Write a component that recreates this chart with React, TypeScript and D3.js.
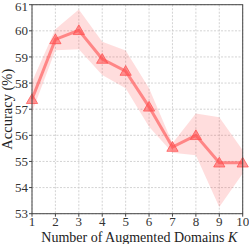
import * as d3 from "d3";
import React, { useRef, useEffect } from "react";

const kValues = [1, 2, 3, 4, 5, 6, 7, 8, 9, 10];
const accMean = [57.38, 59.67, 60.02, 58.92, 58.46, 57.09, 55.55, 56.0, 54.95, 54.95];
const accUpper = [58.05, 60.06, 60.82, 59.58, 59.25, 57.8, 55.7, 56.84, 56.69, 55.43];
const accLower = [56.88, 59.26, 59.29, 58.31, 57.8, 56.33, 55.33, 55.24, 53.26, 54.54];
const yTicks = [53, 54, 55, 56, 57, 58, 59, 60, 61];

const W = 249;
const H = 244;
const margin = { top: 4.7, right: 6.3, bottom: 30.3, left: 32 };

const App = () => {
  const svgRef = useRef(null);

  useEffect(() => {
    const svg = d3.select(svgRef.current);
    svg.selectAll("*").remove();

    const x = d3
      .scaleLinear()
      .domain([1, 10])
      .range([margin.left, W - margin.right]);
    const y = d3
      .scaleLinear()
      .domain([53, 61])
      .range([H - margin.bottom, margin.top]);

    const font = "'Liberation Serif', 'DejaVu Serif', serif";
    const color = "#ff4d4d";

    // grid
    const grid = svg.append("g");
    grid
      .selectAll(".gx")
      .data(kValues)
      .enter()
      .append("line")
      .attr("x1", (d) => x(d))
      .attr("x2", (d) => x(d))
      .attr("y1", margin.top)
      .attr("y2", H - margin.bottom)
      .attr("stroke", "#c8c8c8")
      .attr("stroke-width", 0.8)
      .attr("stroke-dasharray", "2,1.5");
    grid
      .selectAll(".gy")
      .data(yTicks)
      .enter()
      .append("line")
      .attr("x1", margin.left)
      .attr("x2", W - margin.right)
      .attr("y1", (d) => y(d))
      .attr("y2", (d) => y(d))
      .attr("stroke", "#c8c8c8")
      .attr("stroke-width", 0.8)
      .attr("stroke-dasharray", "2,1.5");

    // band
    const area = d3
      .area<number>()
      .x((d) => x(d))
      .y0((d, i) => y(accLower[i]))
      .y1((d, i) => y(accUpper[i]));
    svg
      .append("path")
      .datum(kValues)
      .attr("d", area)
      .attr("fill", "#ff3333")
      .attr("fill-opacity", 0.17);

    // line
    const line = d3
      .line<number>()
      .x((d) => x(d))
      .y((d, i) => y(accMean[i]));
    svg
      .append("path")
      .datum(kValues)
      .attr("d", line)
      .attr("fill", "none")
      .attr("stroke", color)
      .attr("stroke-opacity", 0.6)
      .attr("stroke-width", 3);

    // markers
    const tri = d3.symbol().type(d3.symbolTriangle).size(55);
    svg
      .selectAll(".mk")
      .data(kValues)
      .enter()
      .append("path")
      .attr("d", tri)
      .attr("transform", (d, i) => `translate(${x(d)},${y(accMean[i]) + 1})`)
      .attr("fill", color)
      .attr("fill-opacity", 0.55)
      .attr("stroke", color)
      .attr("stroke-opacity", 0.7)
      .attr("stroke-width", 1);

    // frame
    svg
      .append("rect")
      .attr("x", margin.left)
      .attr("y", margin.top)
      .attr("width", W - margin.left - margin.right)
      .attr("height", H - margin.top - margin.bottom)
      .attr("fill", "none")
      .attr("stroke", "#444")
      .attr("stroke-width", 1);

    // ticks
    const yAxis = svg.append("g");
    yTicks.forEach((t) => {
      yAxis
        .append("line")
        .attr("x1", margin.left - 3)
        .attr("x2", margin.left)
        .attr("y1", y(t))
        .attr("y2", y(t))
        .attr("stroke", "#444");
      yAxis
        .append("text")
        .attr("x", margin.left - 4)
        .attr("y", Math.max(y(t), 6.5))
        .attr("dy", "0.35em")
        .attr("text-anchor", "end")
        .attr("font-family", font)
        .attr("font-size", 13)
        .attr("fill", "#333")
        .text(t);
    });
    const xAxis = svg.append("g");
    kValues.forEach((t) => {
      xAxis
        .append("line")
        .attr("x1", x(t))
        .attr("x2", x(t))
        .attr("y1", H - margin.bottom)
        .attr("y2", H - margin.bottom + 3)
        .attr("stroke", "#444");
      xAxis
        .append("text")
        .attr("x", x(t))
        .attr("y", H - margin.bottom + 12.5)
        .attr("text-anchor", "middle")
        .attr("font-family", font)
        .attr("font-size", 13)
        .attr("fill", "#333")
        .text(t);
    });

    // labels
    const xl = svg
      .append("text")
      .attr("x", (margin.left + W - margin.right) / 2 + 2)
      .attr("y", H - 2.5)
      .attr("text-anchor", "middle")
      .attr("font-family", font)
      .attr("font-size", 14)
      .attr("fill", "#222");
    xl.append("tspan").text("Number of Augmented Domains ");
    xl.append("tspan").attr("font-style", "italic").text("K");

    svg
      .append("text")
      .attr("transform", `translate(12,${(margin.top + H - margin.bottom) / 2}) rotate(-90)`)
      .attr("text-anchor", "middle")
      .attr("font-family", font)
      .attr("font-size", 14.5)
      .attr("fill", "#222")
      .text("Accuracy (%)");
  }, []);

  return (
    <div style={{ position: "absolute", left: 0, top: 0 }}>
      <svg width={W} height={H} ref={svgRef} style={{ display: "block", background: "white" }}></svg>
    </div>
  );
};

export default App;
